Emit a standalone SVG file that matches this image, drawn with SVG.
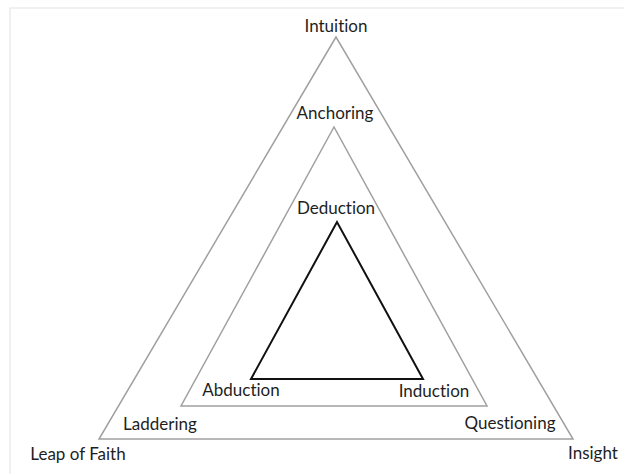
<svg xmlns="http://www.w3.org/2000/svg" width="624" height="474" viewBox="0 0 624 474">
  <style>
    .frame { fill: none; stroke: #ebebeb; stroke-width: 1.5; }
    .outer { fill: none; stroke: #a0a0a0; stroke-width: 1.5; stroke-linejoin: miter; }
    .inner { fill: none; stroke: #111111; stroke-width: 2; stroke-linejoin: miter; }
    .label { font-family: Lato, "Liberation Sans", sans-serif; font-size: 17px; fill: #1e1e1e; text-anchor: middle; font-variant-ligatures: none; font-feature-settings: "liga" 0; }
  </style>
  <rect width="624" height="474" fill="#ffffff"/>
  <!-- light page frame -->
  <path class="frame" d="M10,474 L10,8 L624,8"/>

  <g id="connectors">
    <polygon id="tri-outer" class="outer" points="336,37 99,439 573,439"/>
    <polygon id="tri-middle" class="outer" points="334,127 181,406 487,406"/>
    <polygon id="tri-inner" class="inner" points="337,222 251,379 423,379"/>
  </g>

  <g id="intuition"><text class="label" x="336" y="32">Intuition</text></g>
  <g id="anchoring"><text class="label" x="335" y="119">Anchoring</text></g>
  <g id="deduction"><text class="label" x="336" y="214">Deduction</text></g>
  <g id="abduction"><text class="label" x="241" y="396">Abduction</text></g>
  <g id="induction"><text class="label" x="434" y="397">Induction</text></g>
  <g id="laddering"><text class="label" x="160" y="430">Laddering</text></g>
  <g id="questioning"><text class="label" x="510" y="429">Questioning</text></g>
  <g id="leap-of-faith"><text class="label" x="78" y="460">Leap of Faith</text></g>
  <g id="insight"><text class="label" x="593" y="459">Insight</text></g>
</svg>
